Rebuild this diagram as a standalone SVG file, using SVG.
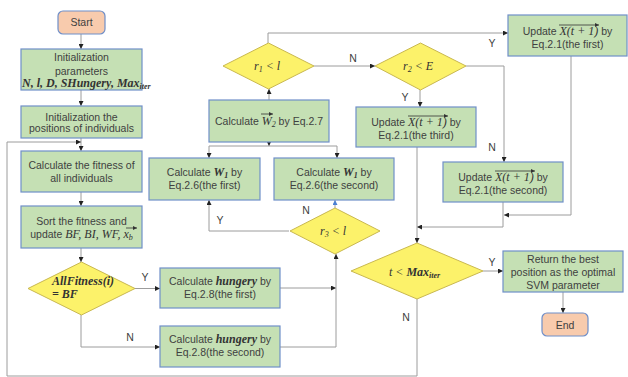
<svg xmlns="http://www.w3.org/2000/svg" width="628" height="377" viewBox="0 0 628 377">
<style>
.box{fill:#c5e0b4;stroke:#6f8fc9;stroke-width:1.2}
.dia{fill:#fcf26a;stroke:#c9b850;stroke-width:1}
.term{fill:#f8cbad;stroke:#6f8fc9;stroke-width:1.2}
.t{font-family:"Liberation Sans",Arial,sans-serif;font-size:10.5px;fill:#404040;text-anchor:middle}
.m{font-family:"Liberation Serif","DejaVu Serif",serif;font-style:italic;font-size:12px;fill:#333}
.b{font-weight:bold}
.sub{font-size:8px}
.c{stroke:#9c9c9c;stroke-width:1;fill:none}
.v{stroke:#333;stroke-width:0.8;fill:none}
.lab{font-family:"Liberation Sans",Arial,sans-serif;font-size:10.5px;fill:#404040;text-anchor:middle}
</style>
<defs>
<marker id="a" markerWidth="5" markerHeight="5" refX="5" refY="2.5" orient="auto" markerUnits="userSpaceOnUse"><path d="M0,0 L5,2.5 L0,5 z" fill="#222"/></marker>
<marker id="ab" markerWidth="5" markerHeight="5" refX="5" refY="2.5" orient="auto" markerUnits="userSpaceOnUse"><path d="M0,0 L5,2.5 L0,5 z" fill="#4a7fd4"/></marker>
<marker id="va" markerWidth="4" markerHeight="4" refX="4" refY="2" orient="auto" markerUnits="userSpaceOnUse"><path d="M0,0 L4,2 L0,4 z" fill="#333"/></marker>
</defs>

<g id="connectors">
<path class="c" d="M81,34 V49" marker-end="url(#a)"/>
<path class="c" d="M81,90 V106" marker-end="url(#a)"/>
<path class="c" d="M81,138 V151" marker-end="url(#a)"/>
<path class="c" d="M417,299 V376 H7 V142 H81" marker-end="url(#a)"/>
<path class="c" d="M81,192 V206" marker-end="url(#a)"/>
<path class="c" d="M81,248 V262" marker-end="url(#a)"/>
<path class="c" d="M135,288.5 H160" marker-end="url(#a)"/>
<path class="c" d="M81,315 V347 H160" marker-end="url(#a)"/>
<path class="c" d="M280,288 H336" marker-end="url(#a)"/>
<path class="c" d="M280,347 H336 V254" marker-end="url(#a)"/>
<path class="c" d="M335,208 V200" marker-end="url(#ab)"/>
<path class="c" d="M289,231 H209 V200" marker-end="url(#a)"/>
<path class="c" d="M269,100 V89" marker-end="url(#a)"/>
<path class="c" d="M269,142 V146" marker-end="url(#a)"/>
<path class="c" d="M209,146 H337"/>
<path class="c" d="M209,146 V158" marker-end="url(#a)"/>
<path class="c" d="M337,146 V158" marker-end="url(#a)"/>
<path class="c" d="M314,66 H375" marker-end="url(#a)"/>
<path class="c" d="M268,43 V33 H508" marker-end="url(#a)"/>
<path class="c" d="M466,66 H504 V162" marker-end="url(#a)"/>
<path class="c" d="M420,90 V107" marker-end="url(#a)"/>
<path class="c" d="M503,202 V227 H417" marker-end="url(#a)"/>
<path class="c" d="M571,56 V215 H504" marker-end="url(#a)"/>
<path class="c" d="M417,147 V243" marker-end="url(#a)"/>
<path class="c" d="M483,271 H503" marker-end="url(#a)"/>
<path class="c" d="M563,292 V313" marker-end="url(#a)"/>
<text class="lab" x="145" y="281">Y</text>
<text class="lab" x="130" y="341">N</text>
<text class="lab" x="220" y="224">Y</text>
<text class="lab" x="306" y="214">N</text>
<text class="lab" x="353" y="62">N</text>
<text class="lab" x="492" y="47">Y</text>
<text class="lab" x="405" y="101">Y</text>
<text class="lab" x="492" y="151">N</text>
<text class="lab" x="492" y="266">Y</text>
<text class="lab" x="406" y="321">N</text>
</g>

<g id="start">
<rect class="term" x="58" y="11" width="47" height="23" rx="5"/>
<text class="t" x="81.5" y="26">Start</text>
</g>

<g id="init-params">
<rect class="box" x="21" y="49" width="121" height="41"/>
<text class="t" x="81.5" y="60.5">Initialization</text>
<text class="t" x="81.5" y="74.5">parameters</text>
<text class="m b" x="22" y="87" font-size="10.5">N, l, D, SHungery, Max<tspan class="sub" dy="2">iter</tspan></text>
</g>

<g id="init-positions">
<rect class="box" x="21" y="106" width="121" height="32"/>
<text class="t" x="81.5" y="120.5">Initialization the</text>
<text class="t" x="81.5" y="132">positions of individuals</text>
</g>

<g id="calc-fitness">
<rect class="box" x="21" y="151" width="121" height="41"/>
<text class="t" x="81.5" y="168.5">Calculate the fitness of</text>
<text class="t" x="81.5" y="182">all individuals</text>
</g>

<g id="sort">
<rect class="box" x="21" y="206" width="121" height="42"/>
<text class="t" x="81.5" y="224.5">Sort the fitness and</text>
<text class="t" x="81.5" y="238">update <tspan class="m" font-size="11">BF, BI, WF, x</tspan><tspan class="m sub" dy="2">b</tspan></text>
<path class="v" d="M126,228 H137" marker-end="url(#va)"/>
</g>

<g id="allfitness">
<polygon class="dia" points="81.5,262 135,288.5 81.5,315 28,288.5"/>
<text class="m b" x="52" y="284.5" font-size="11">AllFitness(i)</text>
<text class="m b" x="52" y="298" font-size="11">= BF</text>
</g>

<g id="hungry1">
<rect class="box" x="160" y="268" width="120" height="40"/>
<text class="t" x="220" y="285">Calculate <tspan class="m b">hungery</tspan> by</text>
<text class="t" x="220" y="298">Eq.2.8(the first)</text>
</g>

<g id="hungry2">
<rect class="box" x="160" y="326" width="120" height="41"/>
<text class="t" x="220" y="343">Calculate <tspan class="m b">hungery</tspan> by</text>
<text class="t" x="220" y="356">Eq.2.8(the second)</text>
</g>

<g id="w1-first">
<rect class="box" x="149" y="158" width="111" height="42"/>
<text class="t" x="204.5" y="176">Calculate <tspan class="m b">W</tspan><tspan class="m b sub" dy="2">1</tspan><tspan dy="-2"> by</tspan></text>
<text class="t" x="204.5" y="189">Eq.2.6(the first)</text>
</g>

<g id="w1-second">
<rect class="box" x="274" y="158" width="120" height="42"/>
<text class="t" x="334" y="176">Calculate <tspan class="m b">W</tspan><tspan class="m b sub" dy="2">1</tspan><tspan dy="-2"> by</tspan></text>
<text class="t" x="334" y="189">Eq.2.6(the second)</text>
</g>

<g id="w2">
<rect class="box" x="209" y="100" width="120" height="42"/>
<text class="t" x="269" y="125">Calculate <tspan class="m">W</tspan><tspan class="m sub" dy="2">2</tspan><tspan dy="-2"> by Eq.2.7</tspan></text>
<path class="v" d="M261,114 H273" marker-end="url(#va)"/>
</g>

<g id="r1">
<polygon class="dia" points="268.5,43 314,66 268.5,89 223,66"/>
<text class="m" x="254" y="69.5">r<tspan class="sub" dy="2">1</tspan><tspan dy="-2"> &lt; l</tspan></text>
</g>

<g id="r2">
<polygon class="dia" points="420.5,43 466,66 420.5,90 375,66"/>
<text class="m" x="403" y="70">r<tspan class="sub" dy="2">2</tspan><tspan dy="-2"> &lt; E</tspan></text>
</g>

<g id="r3">
<polygon class="dia" points="335,208 380,231 335,254 290,231"/>
<text class="m" x="320" y="235">r<tspan class="sub" dy="2">3</tspan><tspan dy="-2"> &lt; l</tspan></text>
</g>

<g id="update-first">
<rect class="box" x="508" y="15" width="119" height="41"/>
<text class="t" x="567.5" y="35">Update <tspan class="m">X(t + 1)</tspan> by</text>
<path class="v" d="M559,25 H599" marker-end="url(#va)"/>
<text class="t" x="567.5" y="48">Eq.2.1(the first)</text>
</g>

<g id="update-third">
<rect class="box" x="356" y="107" width="120" height="40"/>
<text class="t" x="416" y="126">Update <tspan class="m">X(t + 1)</tspan> by</text>
<path class="v" d="M408,116 H448" marker-end="url(#va)"/>
<text class="t" x="416" y="139">Eq.2.1(the third)</text>
</g>

<g id="update-second">
<rect class="box" x="443" y="162" width="120" height="40"/>
<text class="t" x="503" y="181">Update <tspan class="m">X(t + 1)</tspan> by</text>
<path class="v" d="M495,171 H535" marker-end="url(#va)"/>
<text class="t" x="503" y="194">Eq.2.1(the second)</text>
</g>

<g id="t-max">
<polygon class="dia" points="417,243 483,271 417,299 351,271"/>
<text class="m" x="389" y="276">t &lt; <tspan class="b">Max</tspan><tspan class="b sub" dy="2">iter</tspan></text>
</g>

<g id="return">
<rect class="box" x="503" y="251" width="120" height="41"/>
<text class="t" x="563" y="262.5">Return the best</text>
<text class="t" x="563" y="275.5">position as the optimal</text>
<text class="t" x="563" y="288.5">SVM parameter</text>
</g>

<g id="end">
<rect class="term" x="542" y="313" width="46" height="23" rx="5"/>
<text class="t" x="565" y="328.5">End</text>
</g>
</svg>
